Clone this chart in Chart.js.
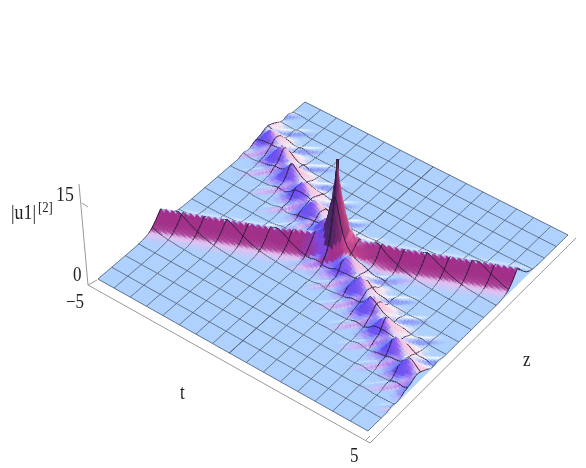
<!DOCTYPE html>
<html>
<head>
<meta charset="utf-8">
<style>
  html, body { margin: 0; background: #fff; }
  canvas { display: block; }
</style>
<script src="https://cdn.jsdelivr.net/npm/chart.js@4"></script>
</head>
<body>
<canvas id="surface" width="586" height="468"></canvas>
<script>
// values. heights are in units of the vertical axis
const gridCells = 16;

// straight soliton: height against distance from its crest (fraction of the z side)
const ridgeDist = [0, 0.005, 0.01, 0.02, 0.03, 0.04, 0.05, 0.065, 0.085, 0.11];
const ridgeHeight = [3.2, 2.95, 2.6, 2.0, 1.45, 1.0, 0.6, 0.3, 0.1, 0];
const ridgeStart = 0.29, ridgeEnd = 0.735;

// breather: crest height of each hump going along the ridge
const breatherTops = [3.0, 3.2, 3.4, 3.4, 3.4, 3.3, 3.2, 3.2, 3.4, 3.5, 3.4, 3.4, 3.4, 3.2, 2.9];
const breatherStart = 0.80, breatherEnd = 0.225;
const humpPhase = [0, 0.12, 0.3, 0.5, 0.7, 0.88, 1];
const humpShape = [1, 0.85, 0.65, 0.5, 0.48, 0.7, 1];
const crossDist = [0, 0.012, 0.025, 0.04, 0.055, 0.075, 0.1, 0.13];
const crossShape = [1, 0.88, 0.66, 0.42, 0.24, 0.1, 0.03, 0];
const wingDist = [0.015, 0.05, 0.1, 0.15, 0.19];
const wingHeight = [0, 0.4, 0.42, 0.16, 0];
const wingPhase = [0, 0.3, 0.4, 0.5, 0.6, 0.7, 1];
const wingShape = [0, 0, 0.7, 1, 0.7, 0, 0];
const humpPeriod = 0.077, humpOffset = 0.5, humpTilt = -8.8;

// the tall spike where the two meet: height against distance in px on the floor
const spikeDist = [0, 1, 2, 3, 4.5, 6.5, 8, 11, 15, 20, 30];
const spikeHeight = [12, 10, 8.2, 6.8, 5.2, 3.6, 2.5, 1.2, 0.5, 0.2, 0];

const axisLabels = [
  { text: '15', x: 56, y: 201, size: 21 },
  { text: '|u1|', x: 11, y: 219, size: 21 },
  { text: '[2]', x: 38, y: 212, size: 15 },
  { text: '0', x: 73, y: 281, size: 20 },
  { text: '\u22125', x: 66, y: 308, size: 20 },
  { text: 't', x: 180, y: 399, size: 20 },
  { text: '5', x: 350, y: 462, size: 20 },
  { text: 'z', x: 523, y: 366, size: 20 }
];
const boxLines = [
  [[79, 184], [88, 285], [370, 443], [576, 238]],
  [[82, 203], [88, 207]],
  [[88, 285], [97, 280]],
  [[365, 441], [370, 436]]
];

// camera: floor corners L, B, R, T on screen and px per unit of height
const floorL = [98, 279], floorB = [368, 431], floorR = [568, 235], floorT = [305, 102];
const heightScale = 5.2;
const baseColor = [174, 209, 254];
const gridColor = 'rgba(85,95,115,0.85)';
const raisedGridColor = 'rgba(40,30,55,0.9)';

const lookup = (xs, ys, x) => {
  if (x <= xs[0]) return ys[0];
  for (let i = 1; i < xs.length; i++) {
    if (x <= xs[i]) return ys[i-1] + (ys[i] - ys[i-1]) * (x - xs[i-1]) / (xs[i] - xs[i-1]);
  }
  return ys[ys.length-1];
};

// homography from the unit square (u along t, v along z) to the screen
function makeFloor() {
  const [x0, y0] = floorL, [x1, y1] = floorB, [x2, y2] = floorR, [x3, y3] = floorT;
  const dx1 = x1-x2, dx2 = x3-x2, sx = x0-x1+x2-x3;
  const dy1 = y1-y2, dy2 = y3-y2, sy = y0-y1+y2-y3;
  const den = dx1*dy2 - dx2*dy1;
  const g = (sx*dy2 - dx2*sy) / den, h = (dx1*sy - sx*dy1) / den;
  const a = x1-x0+g*x1, b = x3-x0+h*x3, d = y1-y0+g*y1, e = y3-y0+h*y3;
  return (u, v) => {
    const w = g*u + h*v + 1;
    return [(a*u + b*v + x0) / w, (d*u + e*v + y0) / w];
  };
}
const floorAt = makeFloor();
const project = (u, v, h) => {
  const [x, y] = floorAt(u, v);
  return { x, y: y - h * heightScale };
};

const ridgeLine = (u) => ridgeStart + (ridgeEnd - ridgeStart) * u;
const breatherLine = (u) => breatherStart + (breatherEnd - breatherStart) * u;
const crossU = (breatherStart - ridgeStart) / (breatherStart - ridgeStart + ridgeEnd - breatherEnd);
const crossV = ridgeLine(crossU);

const ridgeAt = (u, v) => lookup(ridgeDist, ridgeHeight, Math.abs(v - ridgeLine(u)));
const spikeAt = (u, v) => lookup(spikeDist, spikeHeight, Math.hypot((u - crossU) * 300, (v - crossV) * 240));

function heightAt(u, v) {
  const d = v - breatherLine(u);
  const phase = u / humpPeriod + humpOffset + humpTilt * d;
  const n = Math.floor(phase);
  const top = breatherTops[Math.max(0, Math.min(breatherTops.length-1, n))];
  const frac = phase - n;
  const b = top * lookup(crossDist, crossShape, Math.abs(d)) * lookup(humpPhase, humpShape, frac);
  const wing = lookup(wingDist, wingHeight, Math.abs(d)) * lookup(wingPhase, wingShape, frac);
  return ridgeAt(u, v) + b + wing + spikeAt(u, v);
}

// colour of a face by the way it points, in degrees around the floor
const faceAngles = [-180, -125, -95, -72, -37, 0, 60, 120, 180];
const gentleColors = [
  [130, 165, 255], [150, 140, 250], [190, 165, 245], [228, 195, 242], [125, 150, 250],
  [205, 205, 250], [255, 235, 240], [238, 250, 255], [130, 165, 255]
];
const ridgeGentle = [
  [130, 165, 255], [150, 140, 250], [190, 165, 245], [228, 195, 242], [215, 180, 240],
  [205, 205, 250], [200, 215, 250], [174, 209, 254], [130, 165, 255]
];
const ridgeColors = [
  [120, 150, 255], [85, 75, 240], [130, 70, 220], [160, 45, 135], [200, 70, 140],
  [230, 130, 170], [200, 190, 235], [165, 190, 250], [120, 150, 255]
];
const breatherColors = [
  [110, 120, 255], [80, 70, 245], [110, 80, 240], [165, 110, 235], [215, 150, 235],
  [250, 180, 215], [255, 215, 225], [235, 240, 255], [110, 120, 255]
];
const spikeColors = [
  [70, 40, 100], [70, 40, 110], [75, 35, 105], [90, 35, 100], [150, 50, 120],
  [190, 70, 130], [220, 120, 150], [190, 160, 210], [70, 40, 100]
];
const ramp = (x, lo, hi) => {
  const w = Math.min(1, Math.max(0, (x - lo) / (hi - lo)));
  return w * w * (3 - 2 * w);
};

function faceColor(gu, gv, lowColors, steepColors) {
  const slope = Math.hypot(gu, gv);
  const s = slope / Math.sqrt(1 + slope * slope);
  const deg = Math.atan2(-gv, -gu) * 180 / Math.PI;
  const w1 = ramp(s, 0.03, 0.42), w2 = ramp(s, 0.36, 0.78);
  const rgb = [0, 1, 2].map(i => {
    const gentle = lookup(faceAngles, lowColors.map(c => c[i]), deg);
    const steep = lookup(faceAngles, steepColors.map(c => c[i]), deg);
    let c = baseColor[i] + (gentle - baseColor[i]) * w1;
    c += (steep - c) * w2;
    return Math.round(c);
  });
  return `rgb(${rgb.join(',')})`;
}

const line = (points, color, width) => ({
  data: points, showLine: true, fill: false, borderColor: color, borderWidth: width,
  pointRadius: 0, normalized: true, clip: false
});
const patch = (points, color) => ({
  data: points, showLine: true, fill: 'shape', backgroundColor: color, borderColor: color,
  borderWidth: 0.7, pointRadius: 0, normalized: true, clip: false
});

function buildDatasets() {
  const sub = 8;
  const us = [], vs = [];
  for (let i = 0; i <= gridCells * sub; i++) { us.push(i / (gridCells * sub)); vs.push(i / (gridCells * sub)); }
  us.push(crossU); vs.push(crossV);
  us.sort((a, b) => a - b); vs.sort((a, b) => a - b);
  const onGrid = (x) => Math.abs(x * gridCells - Math.round(x * gridCells)) < 1e-9;
  const hs = us.map(u => vs.map(v => heightAt(u, v)));
  const paint = [];

  // floor first
  paint.push(patch([project(0,0,0), project(1,0,0), project(1,1,0), project(0,1,0), project(0,0,0)],
    `rgb(${baseColor.join(',')})`));
  for (const lines of boxLines) paint.push(line(lines.map(([x, y]) => ({ x, y })), '#999', 1));
  us.forEach((u, i) => {
    if (onGrid(u)) paint.push(line(vs.map((v, j) => project(u, v, hs[i][j])), gridColor, 1));
  });
  vs.forEach((v, j) => {
    if (onGrid(v)) paint.push(line(us.map((u, i) => project(u, v, hs[i][j])), gridColor, 1));
  });

  // then back to front: far z first, small t first
  for (let j = vs.length - 2; j >= 0; j--) {
    for (let i = 0; i < us.length - 1; i++) {
      const h00 = hs[i][j], h10 = hs[i+1][j], h01 = hs[i][j+1], h11 = hs[i+1][j+1];
      const top = Math.max(h00, h10, h01, h11);
      if (top < 0.01) continue;
      const u0 = us[i], u1 = us[i+1], v0 = vs[j], v1 = vs[j+1];
      const gu = (h10 + h11 - h00 - h01) / 2 / (u1 - u0) * heightScale / 300;
      const gv = (h01 + h11 - h00 - h10) / 2 / (v1 - v0) * heightScale / 240;
      const a = project(u0, v0, h00), b = project(u1, v0, h10), c = project(u1, v1, h11), d = project(u0, v1, h01);
      const um = (u0 + u1) / 2, vm = (v0 + v1) / 2;
      let low = gentleColors, steep = breatherColors;
      if (spikeAt(um, vm) > 1.2) { low = ridgeGentle; steep = spikeColors; }
      else if (ridgeAt(um, vm) > 0.25) { low = ridgeGentle; steep = ridgeColors; }
      paint.push(patch([a, b, c, d, a], faceColor(gu, gv, low, steep)));
      const edge = top > 0.5 ? raisedGridColor : gridColor;
      if (onGrid(u0)) paint.push(line([a, d], edge, 1));
      if (onGrid(u1)) paint.push(line([b, c], edge, 1));
      if (onGrid(v0)) paint.push(line([a, b], edge, 1));
      if (onGrid(v1)) paint.push(line([d, c], edge, 1));
    }
  }
  // Chart.js paints the first dataset last
  return paint.reverse();
}

const labelPlugin = {
  id: 'axisText',
  afterDraw(chart) {
    const { ctx, scales } = chart;
    ctx.fillStyle = '#222';
    ctx.textBaseline = 'alphabetic';
    for (const l of axisLabels) {
      ctx.save();
      ctx.translate(scales.x.getPixelForValue(l.x), scales.y.getPixelForValue(l.y));
      ctx.scale(0.85, 1);
      ctx.font = `${l.size}px "Liberation Serif"`;
      ctx.fillText(l.text, 0, 0);
      ctx.restore();
    }
  }
};

new Chart(document.getElementById('surface'), {
  type: 'scatter',
  data: { datasets: buildDatasets() },
  options: {
    responsive: false, animation: false, events: [],
    layout: { padding: 0 },
    plugins: { legend: { display: false }, tooltip: { enabled: false } },
    elements: { line: { tension: 0 } },
    scales: {
      x: { type: 'linear', min: 0, max: 586, display: false },
      y: { type: 'linear', min: 0, max: 468, reverse: true, display: false }
    }
  },
  plugins: [labelPlugin]
});
</script>
</body>
</html>
